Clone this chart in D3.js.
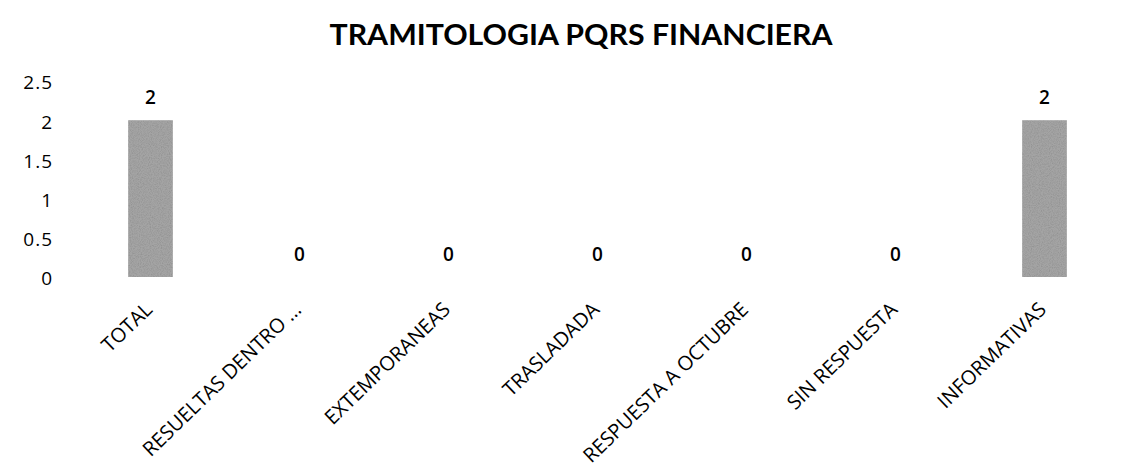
<!DOCTYPE html>
<html>
<head>
<meta charset="utf-8">
<script src="https://cdn.jsdelivr.net/npm/d3@7"></script>
<style>
  body { margin: 0; background: #fff; }
  text { font-family: "Open Sans", "Noto Sans", sans-serif; fill: #000; }
</style>
</head>
<body>
<div id="container"></div>
<script>
const categories = ['TOTAL', 'RESUELTAS DENTRO ...', 'EXTEMPORANEAS', 'TRASLADADA',
  'RESPUESTA A OCTUBRE', 'SIN RESPUESTA', 'INFORMATIVAS'];
const values = [2, 0, 0, 0, 0, 0, 2];
const yTicks = [0, 0.5, 1, 1.5, 2, 2.5];
const title = 'TRAMITOLOGIA PQRS FINANCIERA';

const width = 1141, height = 470;
const margin = { top: 82, right: 22, bottom: 192, left: 76 };

const svg = d3.select('#container')
  .append('svg')
  .attr('width', width)
  .attr('height', height);

// grainy grey like the scanned bars
const defs = svg.append('defs');
const filt = defs.append('filter').attr('id', 'grain')
  .attr('x', 0).attr('y', 0).attr('width', 1).attr('height', 1);
filt.append('feTurbulence').attr('type', 'fractalNoise')
  .attr('baseFrequency', 0.9).attr('numOctaves', 2).attr('result', 'n');
filt.append('feColorMatrix').attr('in', 'n').attr('type', 'matrix')
  .attr('values', '0 0 0 0 0.3  0 0 0 0 0.3  0 0 0 0 0.3  0 0 0 -2.4 1.5')
  .attr('result', 'dots');
filt.append('feComposite').attr('in', 'dots').attr('in2', 'SourceGraphic')
  .attr('operator', 'atop');

svg.append('text')
  .attr('x', 581)
  .attr('y', 45)
  .attr('text-anchor', 'middle')
  .style('font-family', 'Lato, "Open Sans", sans-serif')
  .style('font-size', '28px')
  .style('font-weight', 'bold')
  .attr('textLength', 503)
  .attr('lengthAdjust', 'spacingAndGlyphs')
  .text(title);

const g = svg.append('g')
  .attr('transform', `translate(${margin.left},${margin.top})`);

const w = width - margin.left - margin.right;
const h = height - margin.top - margin.bottom;

const x = d3.scaleBand()
  .domain(categories)
  .range([0, w])
  .paddingInner(0.7)
  .paddingOuter(0.35);

const y = d3.scaleLinear()
  .domain([0, 2.5])
  .range([h, 0]);

// y axis labels only
const yAxis = g.append('g')
  .call(d3.axisLeft(y).tickValues(yTicks).tickSize(0).tickPadding(23)
    .tickFormat(d => d));
yAxis.select('.domain').remove();
yAxis.selectAll('text')
  .style('font-size', '19px')
  .style('letter-spacing', '1px')
  .attr('dy', '0.36em');

// bars
g.selectAll('.bar')
  .data(values)
  .join('rect')
  .attr('class', 'bar')
  .attr('x', (d, i) => x(categories[i]))
  .attr('y', d => y(d) - 1)
  .attr('width', x.bandwidth())
  .attr('height', d => h - y(d))
  .attr('fill', '#a4a4a4')
  .attr('filter', 'url(#grain)');

// value labels
g.selectAll('.val')
  .data(values)
  .join('text')
  .attr('class', 'val')
  .attr('x', (d, i) => x(categories[i]) + x.bandwidth() / 2)
  .attr('y', d => y(d) - 17)
  .attr('text-anchor', 'middle')
  .style('font-size', '19px')
  .style('font-weight', '600')
  .text(d => d);

// category labels, rotated
const xAxis = g.append('g')
  .attr('transform', `translate(0,${h})`)
  .call(d3.axisBottom(x).tickSize(0).tickPadding(0));
xAxis.select('.domain').remove();
xAxis.selectAll('text')
  .style('font-size', '20px')
  .attr('text-anchor', 'end')
  .attr('dy', 0)
  .attr('transform', 'translate(3,33) rotate(-44)');
</script>
</body>
</html>
